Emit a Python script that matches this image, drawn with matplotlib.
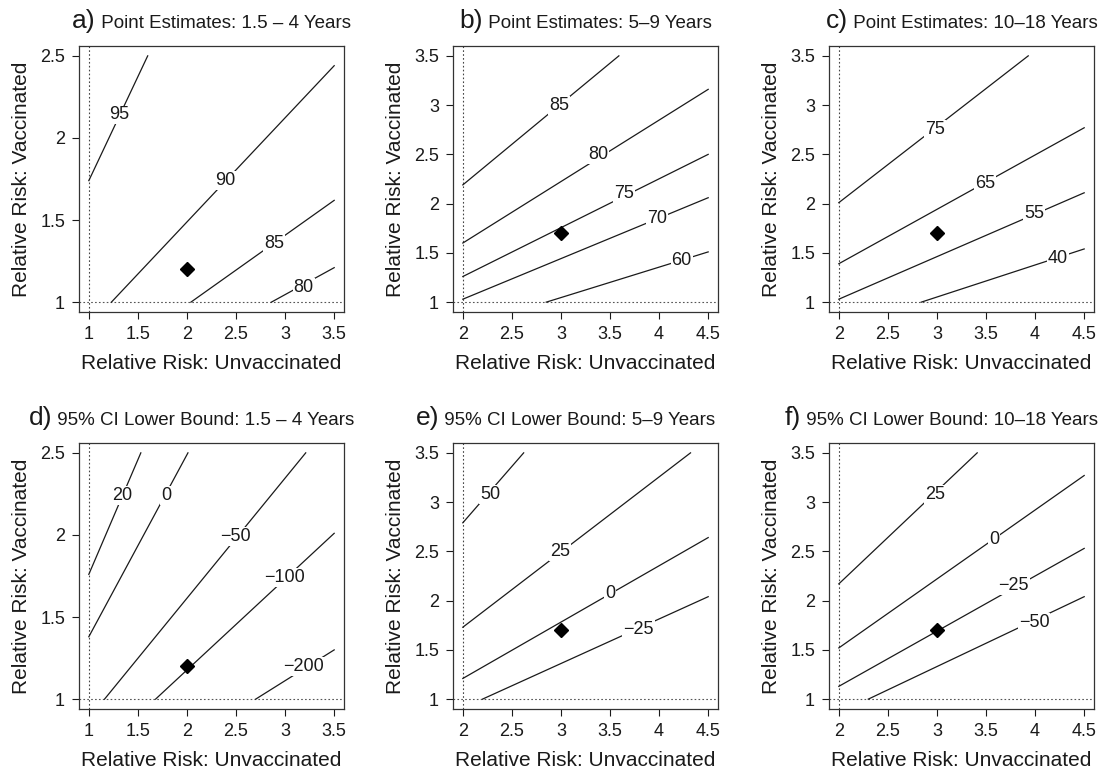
import matplotlib
matplotlib.use('Agg')
import matplotlib.pyplot as plt
from matplotlib.offsetbox import TextArea, HPacker, AnchoredOffsetbox

plt.rcParams['font.family'] = ['Liberation Sans', 'DejaVu Sans']

# contour lines: level, start point, end point, label point
a_levels = ['95', '90', '85', '80']
a_start = [(1.00, 1.74), (1.23, 1.00), (2.04, 1.00), (2.86, 1.00)]
a_end = [(1.60, 2.50), (3.50, 2.44), (3.50, 1.62), (3.50, 1.21)]
a_label = [(1.31, 2.14), (2.39, 1.74), (2.89, 1.36), (3.19, 1.09)]

b_levels = ['85', '80', '75', '70', '60']
b_start = [(2.00, 2.19), (2.00, 1.60), (2.00, 1.26), (2.00, 1.03), (2.85, 1.00)]
b_end = [(3.59, 3.50), (4.50, 3.16), (4.50, 2.50), (4.50, 2.06), (4.50, 1.51)]
b_label = [(2.98, 3.00), (3.38, 2.50), (3.64, 2.10), (3.98, 1.85), (4.23, 1.42)]

c_levels = ['75', '65', '55', '40']
c_start = [(2.00, 2.01), (2.00, 1.39), (2.00, 1.03), (2.84, 1.00)]
c_end = [(3.93, 3.50), (4.50, 2.77), (4.50, 2.11), (4.50, 1.54)]
c_label = [(2.98, 2.75), (3.49, 2.20), (3.99, 1.90), (4.23, 1.44)]

d_levels = ['20', '0', '\u221250', '\u2212100', '\u2212200']
d_start = [(1.00, 1.76), (1.00, 1.38), (1.16, 1.00), (1.68, 1.00), (2.70, 1.00)]
d_end = [(1.53, 2.50), (2.01, 2.50), (3.21, 2.50), (3.50, 2.01), (3.50, 1.30)]
d_label = [(1.34, 2.24), (1.79, 2.24), (2.49, 1.99), (2.99, 1.74), (3.19, 1.20)]

e_levels = ['50', '25', '0', '\u221225']
e_start = [(2.00, 2.79), (2.00, 1.73), (2.00, 1.21), (2.20, 1.00)]
e_end = [(2.62, 3.50), (4.32, 3.50), (4.50, 2.64), (4.50, 2.04)]
e_label = [(2.28, 3.08), (2.99, 2.50), (3.50, 2.07), (3.79, 1.71)]

f_levels = ['25', '0', '\u221225', '\u221250']
f_start = [(2.00, 2.17), (2.00, 1.52), (2.00, 1.13), (2.30, 1.00)]
f_end = [(3.41, 3.50), (4.50, 3.27), (4.50, 2.53), (4.50, 2.04)]
f_label = [(2.98, 3.08), (3.58, 2.62), (3.78, 2.15), (3.99, 1.78)]

# observed relative risks (diamond)
point_x = [2, 3, 3, 2, 3, 3]
point_y = [1.2, 1.7, 1.7, 1.2, 1.7, 1.7]

letters = ['a)', 'b)', 'c)', 'd)', 'e)', 'f)']
titles = ['Point Estimates: 1.5 \u2013 4 Years', 'Point Estimates: 5\u20139 Years',
          'Point Estimates: 10\u201318 Years', '95% CI Lower Bound: 1.5 \u2013 4 Years',
          '95% CI Lower Bound: 5\u20139 Years', '95% CI Lower Bound: 10\u201318 Years']

x_ticks = [[1, 1.5, 2, 2.5, 3, 3.5], [2, 2.5, 3, 3.5, 4, 4.5]]
y_ticks = [[1, 1.5, 2, 2.5], [1, 1.5, 2, 2.5, 3, 3.5]]
tick_idx = [0, 1, 1, 0, 1, 1]

panels = [(a_levels, a_start, a_end, a_label), (b_levels, b_start, b_end, b_label),
          (c_levels, c_start, c_end, c_label), (d_levels, d_start, d_end, d_label),
          (e_levels, e_start, e_end, e_label), (f_levels, f_start, f_end, f_label)]

W, H = 1109, 775
fig = plt.figure(figsize=(W / 100, H / 100), dpi=100)
fig.patch.set_facecolor('white')

lefts = [79, 453, 829]
tops = [46, 443]
aw, ah = 265, 266
title_shift = [0, -20]  # bottom-row titles sit a bit left of centre

ink = '#1a1a1a'

for k, (levels, starts, ends, labs) in enumerate(panels):
    row, col = divmod(k, 3)
    ax = fig.add_axes([lefts[col] / W, 1 - (tops[row] + ah) / H, aw / W, ah / H])
    xt = x_ticks[tick_idx[k]]
    yt = y_ticks[tick_idx[k]]
    xr = xt[-1] - xt[0]
    yr = yt[-1] - yt[0]
    ax.set_xlim(xt[0] - 0.04 * xr, xt[-1] + 0.04 * xr)
    ax.set_ylim(yt[0] - 0.04 * yr, yt[-1] + 0.04 * yr)
    ax.set_xticks(xt)
    ax.set_yticks(yt)
    ax.set_xticklabels([f'{v:g}' for v in xt])
    ax.set_yticklabels([f'{v:g}' for v in yt])

    # reference lines
    ax.axvline(xt[0], color='#444444', lw=0.8, ls=(0, (1.5, 2)))
    ax.axhline(1, color='#555555', lw=0.8, ls=(0, (1.5, 2)))

    for lev, (x0, y0), (x1, y1), (lx, ly) in zip(levels, starts, ends, labs):
        ax.plot([x0, x1], [y0, y1], color=ink, lw=0.9)
        ax.text(lx, ly, lev, fontsize=13, ha='center', va='center', color=ink,
                bbox=dict(facecolor='white', edgecolor='none', pad=0.6))

    ax.plot(point_x[k], point_y[k], marker='D', color='black', markersize=7, ls='none')

    ax.set_xlabel('Relative Risk: Unvaccinated', fontsize=15, labelpad=8, color=ink)
    ax.set_ylabel('Relative Risk: Vaccinated', fontsize=15, labelpad=7, color=ink)
    ax.tick_params(direction='out', length=5, width=0.8, labelsize=13, pad=5, colors=ink)
    for sp in ax.spines.values():
        sp.set_linewidth(0.9)
        sp.set_color('#333333')

    box = HPacker(children=[TextArea(letters[k], textprops=dict(fontsize=19, color=ink)),
                            TextArea(' ' + titles[k], textprops=dict(fontsize=13.5, color=ink))],
                  align='baseline', pad=0, sep=0)
    anch = AnchoredOffsetbox(loc='lower center', child=box, pad=0, borderpad=0, frameon=False,
                             bbox_to_anchor=(0.5 + title_shift[row] / aw, 1.047),
                             bbox_transform=ax.transAxes)
    ax.add_artist(anch)

fig.savefig('out.png', dpi=100)
